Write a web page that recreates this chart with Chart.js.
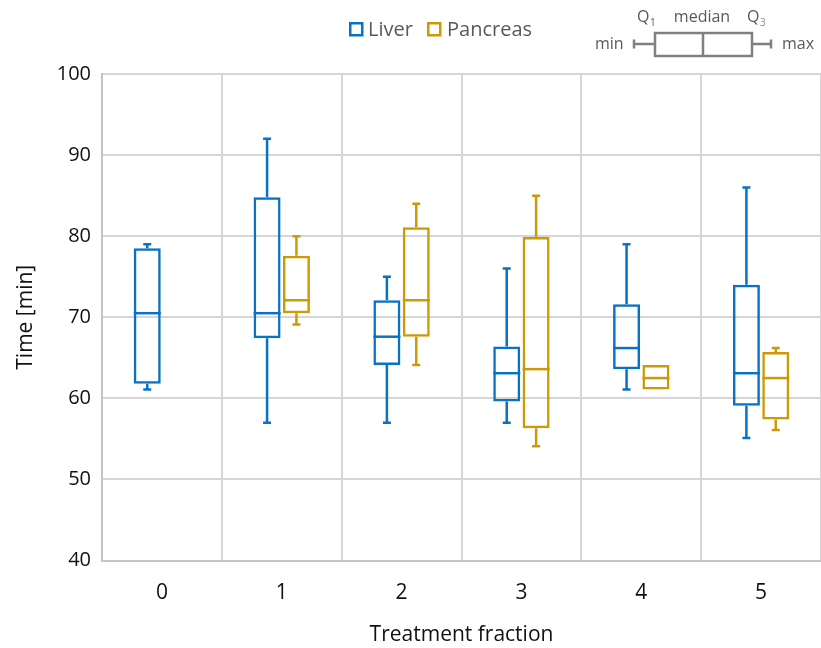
<!DOCTYPE html>
<html>
<head>
<meta charset="utf-8">
<script src="https://cdn.jsdelivr.net/npm/chart.js@4.4.1/dist/chart.umd.min.js"></script>
<style>
  html, body { margin: 0; padding: 0; background: #ffffff; }
  #wrap { width: 821px; height: 648px; position: relative; }
</style>
</head>
<body>
<div id="wrap"><canvas id="c"></canvas></div>
<script>
// ---- data ----
const categories = ['0', '1', '2', '3', '4', '5'];
const yTicks = [40, 50, 60, 70, 80, 90, 100];

const liverMin    = [61.1, 57.0, 57.0, 57.0, 61.1, 55.1];
const liverQ1     = [61.8, 67.4, 64.1, 59.6, 63.6, 59.1];
const liverMedian = [70.5, 70.5, 67.6, 63.1, 66.2, 63.1];
const liverQ3     = [78.5, 84.8, 72.1, 66.4, 71.6, 74.0];
const liverMax    = [79.0, 92.0, 75.0, 76.0, 79.0, 86.0];

const pancreasMin    = [null, 69.1, 64.1, 54.1, 61.1, 56.1];
const pancreasQ1     = [null, 70.5, 67.6, 56.3, 61.1, 57.4];
const pancreasMedian = [null, 72.1, 72.1, 63.6, 62.5, 62.5];
const pancreasQ3     = [null, 77.6, 81.1, 79.9, 64.1, 65.7];
const pancreasMax    = [null, 80.0, 84.0, 85.0, 64.1, 66.2];

const seriesNames = ['Liver', 'Pancreas'];
const seriesColors = ['#0A72C4', '#CC9A06'];

// ---- build stats ----
const stats = [
  { min: liverMin, q1: liverQ1, med: liverMedian, q3: liverQ3, max: liverMax },
  { min: pancreasMin, q1: pancreasQ1, med: pancreasMedian, q3: pancreasQ3, max: pancreasMax }
];

const FONT = "'Open Sans', 'Noto Sans', 'DejaVu Sans', sans-serif";

const boxPlugin = {
  id: 'boxWhiskers',
  afterDatasetsDraw(chart) {
    const ctx = chart.ctx;
    const ys = chart.scales.y;
    chart.data.datasets.forEach((ds, di) => {
      const meta = chart.getDatasetMeta(di);
      const s = stats[di];
      meta.data.forEach((el, j) => {
        if (s.q1[j] == null) return;
        const x = el.x;
        const w = el.width;
        const cap = 4;
        ctx.save();
        ctx.strokeStyle = seriesColors[di];
        ctx.lineCap = 'butt';
        ctx.lineWidth = 2.5;
        const yMax = ys.getPixelForValue(s.max[j]);
        const yQ3 = ys.getPixelForValue(s.q3[j]);
        const yQ1 = ys.getPixelForValue(s.q1[j]);
        const yMin = ys.getPixelForValue(s.min[j]);
        ctx.beginPath();
        if (Math.abs(yQ3 - yMax) > 1) {
          ctx.moveTo(x, yQ3); ctx.lineTo(x, yMax);
          ctx.moveTo(x - cap, yMax); ctx.lineTo(x + cap, yMax);
        }
        if (Math.abs(yMin - yQ1) > 1) {
          ctx.moveTo(x, yQ1); ctx.lineTo(x, yMin);
          ctx.moveTo(x - cap, yMin); ctx.lineTo(x + cap, yMin);
        }
        ctx.stroke();
        ctx.lineWidth = 2.5;
        const yMed = ys.getPixelForValue(s.med[j]);
        ctx.beginPath();
        ctx.moveTo(x - w / 2, yMed); ctx.lineTo(x + w / 2, yMed);
        ctx.stroke();
        ctx.restore();
      });
    });
  }
};

const legendKeyPlugin = {
  id: 'legendKey',
  afterDraw(chart) {
    const ctx = chart.ctx;
    ctx.save();
    ctx.font = "20px " + FONT;
    ctx.textBaseline = 'middle';
    ctx.textAlign = 'left';
    const items = [
      { sx: 349, tx: 368 },
      { sx: 427, tx: 447 }
    ];
    seriesNames.forEach((name, i) => {
      ctx.strokeStyle = seriesColors[i];
      ctx.lineWidth = 2.5;
      ctx.strokeRect(items[i].sx + 1.25, 22 + 1.25, 12, 12);
      ctx.fillStyle = '#595959';
      ctx.fillText(name, items[i].tx, 30);
    });
    const grey = '#808080';
    ctx.strokeStyle = grey;
    ctx.lineWidth = 2.5;
    ctx.beginPath();
    ctx.moveTo(634, 44); ctx.lineTo(655, 44);
    ctx.moveTo(634, 39.5); ctx.lineTo(634, 48.5);
    ctx.moveTo(752, 44); ctx.lineTo(771, 44);
    ctx.moveTo(771, 39.5); ctx.lineTo(771, 48.5);
    ctx.moveTo(703, 33); ctx.lineTo(703, 56);
    ctx.stroke();
    ctx.strokeRect(655, 33, 97, 23);
    ctx.fillStyle = '#595959';
    ctx.font = "16px " + FONT;
    ctx.textAlign = 'left';
    ctx.fillText('min', 595, 44);
    ctx.fillText('max', 782, 44);
    ctx.textAlign = 'center';
    ctx.fillText('median', 702, 17);
    ctx.textAlign = 'left';
    ctx.fillText('Q', 637, 17);
    ctx.fillText('Q', 747, 17);
    ctx.font = "10px " + FONT;
    ctx.fillText('1', 650, 23);
    ctx.fillStyle = '#8a8a8a';
    ctx.fillText('3', 760, 23);
    ctx.restore();
  }
};

const datasets = seriesNames.map((name, i) => ({
  label: name,
  data: categories.map((_, j) => stats[i].q1[j] == null ? null : [stats[i].q1[j], stats[i].q3[j]]),
  backgroundColor: 'rgba(0,0,0,0)',
  borderColor: seriesColors[i],
  borderWidth: 2.5,
  borderSkipped: false,
  categoryPercentage: 0.49,
  barPercentage: 0.92
}));

new Chart(document.getElementById('c'), {
  type: 'bar',
  data: { labels: categories, datasets },
  options: {
    responsive: true,
    maintainAspectRatio: false,
    devicePixelRatio: 1,
    animation: false,
    layout: { padding: { top: 74, left: 0, right: 0, bottom: 0 } },
    plugins: {
      legend: { display: false },
      tooltip: { enabled: false }
    },
    scales: {
      x: {
        grid: { offset: true, color: '#d6d6d6', lineWidth: 2, drawTicks: false },
        border: { color: '#c4c4c4', width: 2 },
        ticks: { color: '#111111', font: { family: FONT, size: 21 }, padding: 20 },
        title: { display: true, text: 'Treatment fraction', color: '#111111',
                 font: { family: FONT, size: 21 }, padding: { top: 0, bottom: 0 } },
        afterFit(scale) { scale.height = 87.5; }
      },
      y: {
        min: 40, max: 100,
        afterBuildTicks(scale) { scale.ticks = yTicks.map(v => ({ value: v })); },
        grid: { color: '#d6d6d6', lineWidth: 2, drawTicks: false },
        border: { color: '#c4c4c4', width: 2 },
        ticks: { color: '#111111', font: { family: FONT, size: 20 }, padding: 11 },
        title: { display: true, text: 'Time [min]', color: '#111111',
                 font: { family: FONT, size: 21 }, padding: { top: 13, bottom: 0 } },
        afterFit(scale) { scale.width = 102; }
      }
    }
  },
  plugins: [boxPlugin, legendKeyPlugin]
});
</script>
</body>
</html>
